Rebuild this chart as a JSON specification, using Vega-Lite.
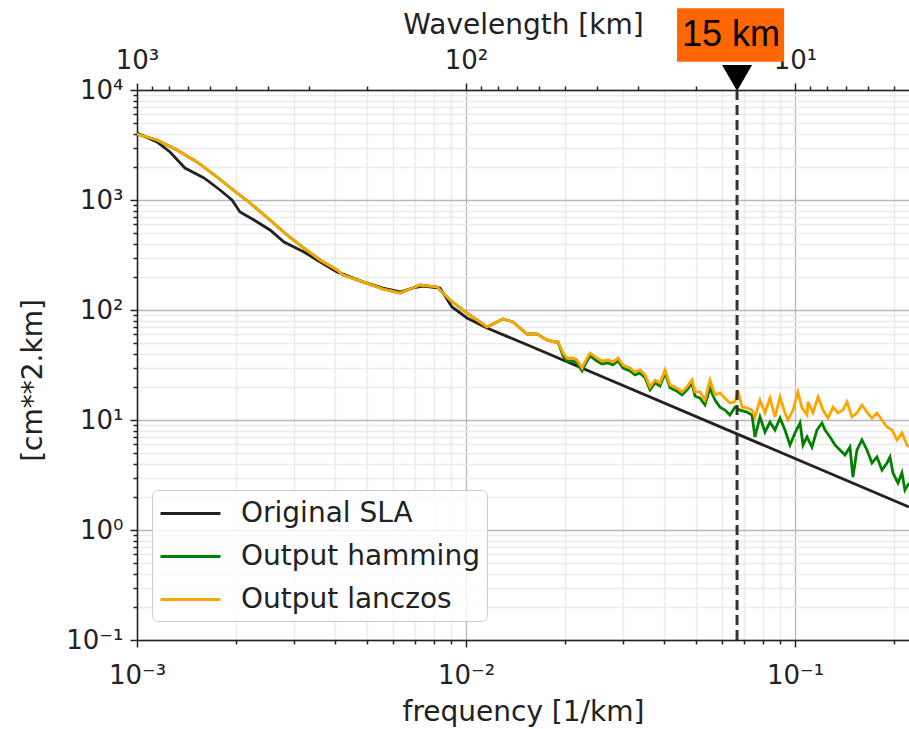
{
  "$schema": "https://vega.github.io/schema/vega-lite/v6.json",
  "width": 772,
  "height": 550,
  "autosize": {"type": "none"},
  "padding": {"left": 137, "top": 90, "right": 0, "bottom": 89},
  "background": "white",
  "config": {
    "view": {"stroke": null},
    "font": "DejaVu Sans",
    "axis": {
      "labelFont": "DejaVu Sans",
      "titleFont": "DejaVu Sans",
      "labelColor": "#222",
      "titleColor": "#222",
      "domainColor": "#222",
      "tickColor": "#222",
      "domainWidth": 1.5,
      "tickWidth": 1.5,
      "labelFontSize": 26,
      "titleFontSize": 28,
      "titleFontWeight": "normal",
      "labelFlush": false,
      "labelOverlap": false,
      "labelBound": false
    }
  },
  "datasets": {
    "sla": [
      {"f": 0.001, "v": 4065}, {"f": 0.00115, "v": 3368}, {"f": 0.00126, "v": 2732}, {"f": 0.001399, "v": 1954},
      {"f": 0.001598, "v": 1585}, {"f": 0.001788, "v": 1233}, {"f": 0.001944, "v": 1000}, {"f": 0.002056, "v": 778},
      {"f": 0.002268, "v": 658}, {"f": 0.002537, "v": 534}, {"f": 0.002798, "v": 415}, {"f": 0.003218, "v": 337},
      {"f": 0.003525, "v": 285}, {"f": 0.004055, "v": 222}, {"f": 0.004863, "v": 180}, {"f": 0.005594, "v": 158.5},
      {"f": 0.006301, "v": 145.8}, {"f": 0.0069, "v": 158.5}, {"f": 0.0074, "v": 165.2}, {"f": 0.008337, "v": 158.5},
      {"f": 0.009066, "v": 106.5}, {"f": 0.01007, "v": 84.6}, {"f": 0.01158, "v": 68.6}, {"f": 0.01565, "v": 47.1},
      {"f": 0.2221, "v": 1.62}
    ],
    "ham": [
      {"f": 0.001, "v": 3981}, {"f": 0.00115, "v": 3512}, {"f": 0.001323, "v": 2848}, {"f": 0.001522, "v": 2216},
      {"f": 0.001751, "v": 1619}, {"f": 0.002014, "v": 1158}, {"f": 0.002206, "v": 939}, {"f": 0.002537, "v": 658},
      {"f": 0.002857, "v": 481}, {"f": 0.003218, "v": 366}, {"f": 0.003599, "v": 285}, {"f": 0.004055, "v": 231},
      {"f": 0.004229, "v": 208}, {"f": 0.004863, "v": 180}, {"f": 0.005594, "v": 155.2}, {"f": 0.006301, "v": 142.7},
      {"f": 0.006757, "v": 155.2}, {"f": 0.007247, "v": 168.8}, {"f": 0.008165, "v": 161.9}, {"f": 0.008942, "v": 123.3},
      {"f": 0.01007, "v": 93.9}, {"f": 0.01158, "v": 70.1}, {"f": 0.01296, "v": 82.8}, {"f": 0.0139, "v": 77.8},
      {"f": 0.01532, "v": 60.5}, {"f": 0.01644, "v": 60.5}, {"f": 0.01763, "v": 53.4}, {"f": 0.01865, "v": 51.2},
      {"f": 0.01904, "v": 51.2}, {"f": 0.01972, "v": 38.3}, {"f": 0.02028, "v": 34.4}, {"f": 0.02115, "v": 34.4},
      {"f": 0.02175, "v": 33.0}, {"f": 0.02252, "v": 27.9}, {"f": 0.023, "v": 31.7}, {"f": 0.02382, "v": 38.3},
      {"f": 0.02502, "v": 34.4}, {"f": 0.02591, "v": 32.3}, {"f": 0.02702, "v": 33.0}, {"f": 0.02798, "v": 31.7},
      {"f": 0.02897, "v": 34.4}, {"f": 0.03001, "v": 29.7}, {"f": 0.03151, "v": 27.9}, {"f": 0.03264, "v": 25.7},
      {"f": 0.0338, "v": 26.8}, {"f": 0.03501, "v": 24.2}, {"f": 0.03625, "v": 18.8}, {"f": 0.03754, "v": 21.7},
      {"f": 0.03888, "v": 20.4}, {"f": 0.04027, "v": 26.8}, {"f": 0.0417, "v": 19.6}, {"f": 0.04379, "v": 18.3},
      {"f": 0.04535, "v": 16.9}, {"f": 0.04697, "v": 18.8}, {"f": 0.04863, "v": 21.7}, {"f": 0.04966, "v": 16.5},
      {"f": 0.05143, "v": 15.8}, {"f": 0.05326, "v": 13.7}, {"f": 0.05516, "v": 19.5}, {"f": 0.05713, "v": 15.2},
      {"f": 0.05916, "v": 13.1}, {"f": 0.06127, "v": 12.3}, {"f": 0.06345, "v": 11.1}, {"f": 0.06572, "v": 13.1},
      {"f": 0.06806, "v": 12.3}, {"f": 0.07148, "v": 11.8}, {"f": 0.07402, "v": 11.1}, {"f": 0.07559, "v": 7.01},
      {"f": 0.07828, "v": 10.65}, {"f": 0.08107, "v": 7.78}, {"f": 0.08395, "v": 9.59}, {"f": 0.08695, "v": 8.11},
      {"f": 0.09004, "v": 10.4}, {"f": 0.09324, "v": 8.11}, {"f": 0.09656, "v": 5.93}, {"f": 0.1, "v": 7.62},
      {"f": 0.1036, "v": 9.39}, {"f": 0.1058, "v": 5.93}, {"f": 0.1088, "v": 7.01}, {"f": 0.1126, "v": 5.68},
      {"f": 0.1166, "v": 8.11}, {"f": 0.1208, "v": 9.39}, {"f": 0.1234, "v": 8.11}, {"f": 0.1278, "v": 7.01},
      {"f": 0.1323, "v": 5.93}, {"f": 0.137, "v": 5.34}, {"f": 0.1419, "v": 4.81}, {"f": 0.1469, "v": 5.68},
      {"f": 0.15, "v": 3.03}, {"f": 0.1543, "v": 5.34}, {"f": 0.1598, "v": 6.58}, {"f": 0.1655, "v": 5.34},
      {"f": 0.1714, "v": 4.07}, {"f": 0.1775, "v": 4.61}, {"f": 0.1838, "v": 3.51}, {"f": 0.1904, "v": 4.07},
      {"f": 0.1944, "v": 4.61}, {"f": 0.1986, "v": 3.3}, {"f": 0.2056, "v": 2.67}, {"f": 0.2114, "v": 3.3},
      {"f": 0.2159, "v": 2.31}, {"f": 0.2221, "v": 2.67}
    ],
    "lan": [
      {"f": 0.001, "v": 3981}, {"f": 0.00115, "v": 3512}, {"f": 0.001323, "v": 2848}, {"f": 0.001522, "v": 2216},
      {"f": 0.001751, "v": 1619}, {"f": 0.002014, "v": 1158}, {"f": 0.002206, "v": 939}, {"f": 0.002537, "v": 658},
      {"f": 0.002857, "v": 481}, {"f": 0.003218, "v": 366}, {"f": 0.003599, "v": 285}, {"f": 0.004055, "v": 231},
      {"f": 0.004229, "v": 208}, {"f": 0.004863, "v": 180}, {"f": 0.005594, "v": 155.2}, {"f": 0.006301, "v": 142.7},
      {"f": 0.006757, "v": 155.2}, {"f": 0.007247, "v": 168.8}, {"f": 0.008165, "v": 161.9}, {"f": 0.008942, "v": 123.3},
      {"f": 0.01007, "v": 93.9}, {"f": 0.01158, "v": 70.1}, {"f": 0.01296, "v": 82.8}, {"f": 0.0139, "v": 77.8},
      {"f": 0.01532, "v": 60.5}, {"f": 0.01644, "v": 60.5}, {"f": 0.01763, "v": 53.4}, {"f": 0.01865, "v": 51.2},
      {"f": 0.01904, "v": 51.2}, {"f": 0.01972, "v": 40.7}, {"f": 0.02028, "v": 36.6}, {"f": 0.02115, "v": 36.6},
      {"f": 0.02175, "v": 35.1}, {"f": 0.02252, "v": 29.7}, {"f": 0.023, "v": 33.7}, {"f": 0.02382, "v": 40.7},
      {"f": 0.02502, "v": 36.6}, {"f": 0.02591, "v": 34.4}, {"f": 0.02702, "v": 35.1}, {"f": 0.02798, "v": 33.7},
      {"f": 0.02897, "v": 36.6}, {"f": 0.03001, "v": 31.6}, {"f": 0.03151, "v": 29.7}, {"f": 0.03264, "v": 27.3},
      {"f": 0.0338, "v": 28.5}, {"f": 0.03501, "v": 25.7}, {"f": 0.03625, "v": 20.0}, {"f": 0.03754, "v": 23.1},
      {"f": 0.03888, "v": 21.7}, {"f": 0.04027, "v": 28.5}, {"f": 0.0417, "v": 20.8}, {"f": 0.04379, "v": 19.5},
      {"f": 0.04535, "v": 18.0}, {"f": 0.04697, "v": 20.0}, {"f": 0.04863, "v": 23.1}, {"f": 0.04966, "v": 18.0},
      {"f": 0.05143, "v": 18.0}, {"f": 0.05326, "v": 15.2}, {"f": 0.05516, "v": 23.1}, {"f": 0.05713, "v": 16.9},
      {"f": 0.05916, "v": 17.6}, {"f": 0.06127, "v": 15.8}, {"f": 0.06345, "v": 14.3}, {"f": 0.06572, "v": 14.6},
      {"f": 0.06711, "v": 18.7}, {"f": 0.06902, "v": 13.1}, {"f": 0.07148, "v": 12.9}, {"f": 0.07402, "v": 12.3},
      {"f": 0.07559, "v": 10.65}, {"f": 0.07828, "v": 15.2}, {"f": 0.08107, "v": 11.6}, {"f": 0.08395, "v": 15.8},
      {"f": 0.08695, "v": 10.65}, {"f": 0.09004, "v": 16.2}, {"f": 0.09324, "v": 11.6}, {"f": 0.09521, "v": 10.0},
      {"f": 0.09861, "v": 12.3}, {"f": 0.1021, "v": 18.0}, {"f": 0.105, "v": 12.9}, {"f": 0.1088, "v": 11.1},
      {"f": 0.1095, "v": 14.6}, {"f": 0.1134, "v": 11.6}, {"f": 0.1175, "v": 16.2}, {"f": 0.1217, "v": 12.3},
      {"f": 0.126, "v": 10.4}, {"f": 0.1305, "v": 13.1}, {"f": 0.1351, "v": 11.6}, {"f": 0.1399, "v": 12.3},
      {"f": 0.1439, "v": 14.6}, {"f": 0.149, "v": 10.65}, {"f": 0.1543, "v": 11.6}, {"f": 0.1598, "v": 13.7},
      {"f": 0.1655, "v": 11.8}, {"f": 0.1714, "v": 10.4}, {"f": 0.1775, "v": 11.6}, {"f": 0.1838, "v": 10.0},
      {"f": 0.1904, "v": 8.64}, {"f": 0.1972, "v": 8.11}, {"f": 0.2042, "v": 6.58}, {"f": 0.2114, "v": 7.62},
      {"f": 0.219, "v": 5.93}, {"f": 0.2221, "v": 5.68}
    ],
    "cut": [{"f": 0.066667, "label": "15 km"}]
  },
  "layer": [
    {
      "data": {"name": "sla"},
      "mark": {"type": "line", "strokeWidth": 2.8, "clip": true},
      "encoding": {
        "x": {
          "field": "f", "type": "quantitative",
          "scale": {"type": "log", "domain": [0.001, 0.2221], "nice": false},
          "axis": {
            "orient": "bottom", "values": [0.001, 0.01, 0.1],
            "labelExpr": "round(log(datum.value)/LN10) == -3 ? '10⁻³' : round(log(datum.value)/LN10) == -2 ? '10⁻²' : '10⁻¹'",
            "title": "frequency [1/km]", "grid": true, "gridColor": "#b8b8b8", "gridWidth": 1.3,
            "tickSize": 7, "labelPadding": 15, "titlePadding": 10
          }
        },
        "y": {
          "field": "v", "type": "quantitative",
          "scale": {"type": "log", "domain": [0.1, 10000], "nice": false},
          "axis": {
            "orient": "left", "values": [0.1, 1, 10, 100, 1000, 10000],
            "labelExpr": "round(log(datum.value)/LN10) == -1 ? '10⁻¹' : round(log(datum.value)/LN10) == 0 ? '10⁰' : round(log(datum.value)/LN10) == 1 ? '10¹' : round(log(datum.value)/LN10) == 2 ? '10²' : round(log(datum.value)/LN10) == 3 ? '10³' : '10⁴'",
            "title": "[cm**2.km]", "grid": true, "gridColor": "#b8b8b8", "gridWidth": 1.3,
            "tickSize": 7, "labelPadding": 7,
            "titleX": -104, "titleY": 290, "titleAngle": -90, "titleAlign": "center", "titleBaseline": "middle"
          }
        },
        "color": {
          "datum": "Original SLA", "type": "nominal",
          "scale": {"domain": ["Original SLA", "Output hamming", "Output lanczos"], "range": ["#222222", "green", "orange"]},
          "legend": {
            "orient": "none", "legendX": 15, "legendY": 400, "title": null,
            "symbolType": "M-1,0H3", "symbolSize": 900, "symbolStrokeWidth": 3,
            "labelFont": "DejaVu Sans", "labelFontSize": 28, "labelColor": "#222", "labelLimit": 500,
            "labelOffset": 49, "padding": 7, "rowPadding": 12,
            "fillColor": "rgba(255,255,255,0.8)", "strokeColor": "#cccccc", "cornerRadius": 6
          }
        }
      }
    },
    {
      "data": {"name": "ham"},
      "mark": {"type": "line", "strokeWidth": 2.8, "clip": true},
      "encoding": {
        "x": {
          "field": "f", "type": "quantitative",
          "scale": {"type": "log", "domain": [0.001, 0.2221], "nice": false},
          "axis": {
            "orient": "bottom",
            "values": [0.002, 0.003, 0.004, 0.005, 0.006, 0.007, 0.008, 0.009, 0.02, 0.03, 0.04, 0.05, 0.06, 0.07, 0.08, 0.09, 0.2],
            "labels": false, "title": null, "domain": false, "grid": true, "gridColor": "#ebebeb", "gridWidth": 1.5, "tickSize": 4
          }
        },
        "y": {
          "field": "v", "type": "quantitative",
          "scale": {"type": "log", "domain": [0.1, 10000], "nice": false},
          "axis": {
            "orient": "left",
            "values": [0.2, 0.3, 0.4, 0.5, 0.6, 0.7, 0.8, 0.9, 2, 3, 4, 5, 6, 7, 8, 9, 20, 30, 40, 50, 60, 70, 80, 90, 200, 300, 400, 500, 600, 700, 800, 900, 2000, 3000, 4000, 5000, 6000, 7000, 8000, 9000],
            "labels": false, "title": null, "domain": false, "grid": true, "gridColor": "#ebebeb", "gridWidth": 1.5, "tickSize": 4
          }
        },
        "color": {"datum": "Output hamming", "type": "nominal"}
      }
    },
    {
      "data": {"name": "lan"},
      "mark": {"type": "line", "strokeWidth": 2.8, "clip": true},
      "encoding": {
        "x": {
          "field": "f", "type": "quantitative",
          "scale": {"type": "log", "domain": [0.001, 0.2221], "nice": false},
          "axis": {
            "orient": "top", "values": [0.001, 0.01, 0.1],
            "labelExpr": "round(log(datum.value)/LN10) == -3 ? '10³' : round(log(datum.value)/LN10) == -2 ? '10²' : '10¹'",
            "title": "Wavelength [km]", "grid": false, "tickSize": 7, "labelPadding": 10, "titlePadding": 8
          }
        },
        "y": {
          "field": "v", "type": "quantitative",
          "scale": {"type": "log", "domain": [0.1, 10000], "nice": false},
          "axis": null
        },
        "color": {"datum": "Output lanczos", "type": "nominal"}
      }
    },
    {
      "data": {"name": "cut"},
      "mark": {"type": "rule", "color": "#333333", "strokeWidth": 3, "strokeDash": [10, 5]},
      "encoding": {
        "x": {
          "field": "f", "type": "quantitative",
          "scale": {"type": "log", "domain": [0.001, 0.2221], "nice": false},
          "axis": {
            "orient": "top",
            "values": [0.0011111, 0.00125, 0.0014286, 0.0016667, 0.002, 0.0025, 0.0033333, 0.005, 0.011111, 0.0125, 0.014286, 0.016667, 0.02, 0.025, 0.033333, 0.05, 0.11111, 0.125, 0.14286, 0.16667, 0.2],
            "labels": false, "title": null, "domain": false, "grid": false, "tickSize": 4
          }
        }
      }
    },
    {
      "data": {"name": "cut"},
      "mark": {"type": "point", "shape": "triangle-down", "size": 900, "filled": true, "color": "black", "opacity": 1},
      "encoding": {
        "x": {"field": "f", "type": "quantitative", "scale": {"type": "log", "domain": [0.001, 0.2221], "nice": false}, "axis": null},
        "y": {"datum": 12850, "type": "quantitative", "scale": {"type": "log", "domain": [0.1, 10000], "nice": false}, "axis": null}
      }
    },
    {
      "data": {"name": "cut"},
      "mark": {"type": "point", "shape": "M-1,-0.5H1V0.5H-1Z", "size": 11449, "filled": true, "color": "#ff6600", "opacity": 1, "xOffset": -6.5},
      "encoding": {
        "x": {"field": "f", "type": "quantitative", "scale": {"type": "log", "domain": [0.001, 0.2221], "nice": false}, "axis": null},
        "y": {"datum": 31623, "type": "quantitative", "scale": {"type": "log", "domain": [0.1, 10000], "nice": false}, "axis": null}
      }
    },
    {
      "data": {"name": "cut"},
      "mark": {"type": "text", "font": "Liberation Sans", "fontSize": 36, "color": "black", "align": "center", "baseline": "middle", "dx": -6},
      "encoding": {
        "x": {"field": "f", "type": "quantitative", "scale": {"type": "log", "domain": [0.001, 0.2221], "nice": false}, "axis": null},
        "y": {"datum": 31623, "type": "quantitative", "scale": {"type": "log", "domain": [0.1, 10000], "nice": false}, "axis": null},
        "text": {"field": "label"}
      }
    }
  ],
  "resolve": {"axis": {"x": "independent", "y": "independent"}}
}
